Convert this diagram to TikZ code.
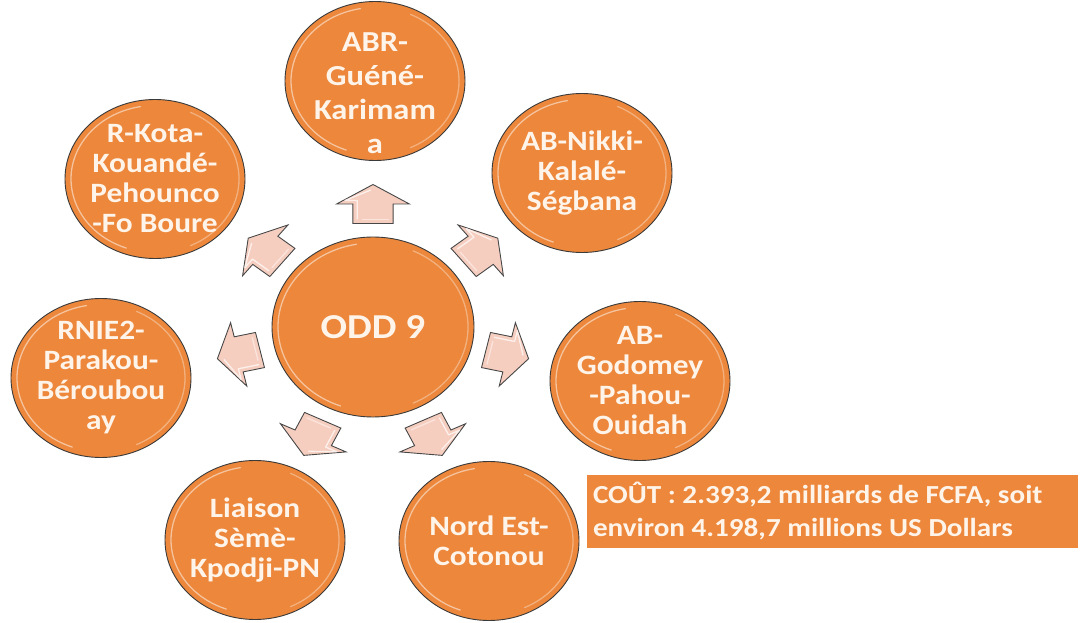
\documentclass[tikz,border=0pt]{standalone}
\usepackage{fontspec}
\setmainfont{Carlito}[FakeStretch=1.12]
\usetikzlibrary{shapes.geometric,calc}

\definecolor{discfill}{HTML}{EC873B}
\definecolor{discedge}{HTML}{3A3A3A}
\definecolor{spokefill}{HTML}{F6CEC0}
\definecolor{spokeedge}{HTML}{474747}
\definecolor{labeltext}{HTML}{FFF4EA}

% highlight arcs on the left and right rims of a disc
\newcommand\glint[3]{%
  \draw[glintline] ($(#1.center)+({#2*cos(100)},{#3*sin(100)})$)
    arc[start angle=100,end angle=250,x radius=#2,y radius=#3];
  \draw[glintline,opacity=.35] ($(#1.center)+({#2*cos(-65)},{#3*sin(-65)})$)
    arc[start angle=-65,end angle=65,x radius=#2,y radius=#3];}

\begin{document}
\begin{tikzpicture}[x=1pt,y=1pt,
  % negative inner sep keeps every disc at its minimum size whatever its text
  disc/.style={ellipse, fill=discfill, draw=discedge, line width=0.9pt,
    inner sep=-45pt, minimum width=180pt, minimum height=159pt,
    text=labeltext, align=center,
    font=\bfseries\fontsize{28}{30}\selectfont},
  bigdisc/.style={disc, font=\bfseries\fontsize{29}{34}\selectfont},
  hub/.style={disc, minimum width=202pt, minimum height=180pt,
    font=\bfseries\fontsize{35}{40}\selectfont},
  glintline/.style={white, opacity=.5, line width=1.3pt, line cap=round},
  spokebody/.style={fill=spokefill, draw=spokeedge, line width=0.9pt, line join=miter},
  spokeglint/.style={white, opacity=.7, line width=1.3pt, line join=round},
  costbox/.style={rectangle, fill=discfill, minimum width=491pt, minimum height=73pt,
    inner xsep=6pt, text width=479pt, align=flush left, text=labeltext,
    font=\bfseries\fontsize{26}{33}\selectfont}
]
\useasboundingbox (0,0) rectangle (1082,622);
\coordinate (C) at (373,295);

% central disc
\node[hub] (hub) at (C) {ODD 9};

% seven outer discs round the centre (the text of ABR sits a little low)
\node[bigdisc] (abr) at (375,541) {\mbox{}\\[10pt]ABR-\\Guéné-\\Karimam\\a};
\node[disc] (nik)  at (582,449) {AB-Nikki-\\Kalalé-\\Ségbana};
\node[disc] (god)  at (640,241) {AB-\\Godomey\\-Pahou-\\Ouidah};
\node[disc] (nord) at (489,81)  {Nord Est-\\Cotonou};
\node[disc] (lia)  at (255,82)  {Liaison\\Sèmè-\\Kpodji-PN};
\node[disc] (rnie) at (101,244) {RNIE2-\\Parakou-\\Béroubou\\ay};
\node[disc] (kota) at (155,443) {R-Kota-\\Kouandé-\\Pehounco\\-Fo Boure};

\glint{hub}{95}{84}
\foreach \n in {abr,nik,god,nord,lia,rnie,kota}{\glint{\n}{84}{73.5}}

% block arrows pointing from the centre to each outer disc
\foreach \a in {90,38.571,-12.857,-64.286,-115.714,-167.143,141.429}{
  \begin{scope}[shift={($(C)+({1.12*123*cos(\a)},{123*sin(\a)})$)}, xscale=1.12, rotate=\a]
    \draw[spokebody] (-19.5,-18) -- (0,-18) -- (0,-32.5) -- (19.5,0)
      -- (0,32.5) -- (0,18) -- (-19.5,18) -- cycle;
    \draw[spokeglint] (-15.5,14) -- (3.5,14) -- (3.5,25) -- (14,2);
    \draw[spokeglint,opacity=.45] (-15.5,-14) -- (-15.5,10);
  \end{scope}
}

% cost label
\node[costbox] (cost) at (832.5,110.5)
  {COÛT : 2.393,2 milliards de FCFA, soit\\environ 4.198,7 millions US Dollars};
\end{tikzpicture}
\end{document}
